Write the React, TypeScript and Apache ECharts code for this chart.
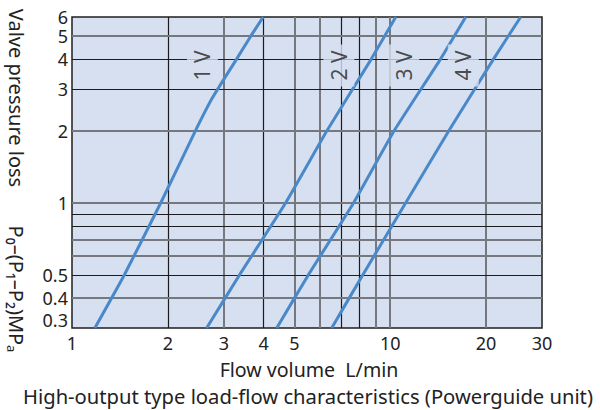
import React, { useEffect, useRef } from 'react';
import * as echarts from 'echarts';

// Axis tick labels
const xTickLabels = [1, 2, 3, 4, 5, 10, 20, 30];
const yTickLabels = [0.3, 0.4, 0.5, 1, 2, 3, 4, 5, 6];

// Grid lines (two line weights in the original)
const xGridDark = [2, 4, 7, 8];
const xGridGray = [3, 5, 6, 9, 10, 20];
const yGridDark = [0.5, 0.8, 0.9, 3, 4];
const yGridGray = [0.4, 0.6, 0.7, 1, 2, 5];

// Curves: flow volume (L/min) vs valve pressure loss (MPa)
const flow1V = [1.18, 1.46, 1.9, 2.44, 2.76, 3.29, 3.65, 3.99];
const loss1V = [0.3, 0.5, 1, 2, 2.75, 4, 5, 6];
const flow2V = [2.65, 3.36, 4.69, 6.32, 8.72, 10.41];
const loss2V = [0.3, 0.5, 1, 2, 4, 6];
const flow3V = [4.4, 5.53, 7.67, 10.28, 14.39, 17.27];
const loss3V = [0.3, 0.5, 1, 2, 4, 6];
const flow4V = [6.55, 8.2, 11.18, 15.27, 21.12, 25.71];
const loss4V = [0.3, 0.5, 1, 2, 4, 6];

// Curve labels
const curveNames = ['1 V', '2 V', '3 V', '4 V'];
const labelFlow = [2.57, 6.9, 11.03, 16.97];
const labelLoss = [3.76, 3.76, 3.76, 3.76];

const FONT = '"Noto Sans", "DejaVu Sans", sans-serif';
const BG = '#d6e0f0';
const TEXT = '#222222';
const LINE = '#4a89c9';

export default function App() {
  const ref = useRef<HTMLDivElement>(null);

  useEffect(() => {
    if (!ref.current) return;
    const chart = echarts.init(ref.current, null, { renderer: 'svg' });

    const dark = { color: '#1c1c1c', width: 1.2, type: 'solid' };
    const gray = { color: '#76787f', width: 2, type: 'solid' };

    const gridLines = [
      ...xGridDark.map((v) => ({ xAxis: v, lineStyle: dark })),
      ...xGridGray.map((v) => ({ xAxis: v, lineStyle: gray })),
      ...yGridDark.map((v) => ({ yAxis: v, lineStyle: dark })),
      ...yGridGray.map((v) => ({ yAxis: v, lineStyle: gray })),
    ];

    const curves = [
      { flow: flow1V, loss: loss1V },
      { flow: flow2V, loss: loss2V },
      { flow: flow3V, loss: loss3V },
      { flow: flow4V, loss: loss4V },
    ];

    const titleStyle = (text: string, size = 20) => ({
      text,
      fontSize: size,
      fontFamily: FONT,
      fill: TEXT,
      align: 'center',
      verticalAlign: 'middle',
    });

    const option: any = {
      animation: false,
      grid: {
        left: 72,
        top: 17,
        width: 470,
        height: 311,
        show: true,
        backgroundColor: BG,
        borderColor: '#1e1e1e',
        borderWidth: 1.5,
      },
      xAxis: {
        type: 'log',
        logBase: 10,
        min: 1,
        max: 30,
        axisLine: { show: false },
        axisTick: { show: false },
        splitLine: { show: false },
        axisLabel: {
          customValues: xTickLabels,
          color: TEXT,
          fontSize: 18,
          fontFamily: FONT,
          margin: 6,
        },
      },
      yAxis: {
        type: 'log',
        logBase: 10,
        min: 0.3,
        max: 6,
        axisLine: { show: false },
        axisTick: { show: false },
        splitLine: { show: false },
        axisLabel: {
          customValues: yTickLabels,
          color: TEXT,
          fontSize: 18,
          lineHeight: 16,
          fontFamily: FONT,
          margin: 4,
          verticalAlignMinLabel: 'bottom',
        },
      },
      graphic: [
        {
          type: 'text',
          x: 16,
          y: 98,
          rotation: -Math.PI / 2,
          style: titleStyle('Valve pressure loss'),
        },
        {
          type: 'text',
          x: 16,
          y: 289,
          rotation: -Math.PI / 2,
          style: titleStyle('P₀–(P₁–P₂)MPₐ'),
        },
        {
          type: 'text',
          x: 309,
          y: 369.5,
          style: titleStyle('Flow volume  L/min', 19.6),
        },
        {
          type: 'text',
          x: 308,
          y: 396,
          style: titleStyle('High-output type load-flow characteristics (Powerguide unit)', 20.2),
        },
      ],
      series: [
        {
          type: 'line',
          data: [],
          silent: true,
          z: 1,
          markLine: {
            silent: true,
            z: 1,
            symbol: ['none', 'none'],
            label: { show: false },
            animation: false,
            data: gridLines,
          },
        },
        ...curves.map((c, k) => ({
          type: 'line',
          name: curveNames[k],
          data: c.flow.map((f, i) => [f, c.loss[i]]),
          symbol: 'none',
          showSymbol: false,
          smooth: 0.15,
          z: 10,
          lineStyle: { color: LINE, width: 3 },
        })),
        {
          type: 'scatter',
          z: 12,
          symbolSize: 0,
          silent: true,
          data: labelFlow.map((f, i) => ({ value: [f, labelLoss[i]], name: curveNames[i] })),
          label: {
            show: true,
            position: 'inside',
            formatter: '{b}',
            rotate: 90,
            fontSize: 21,
            fontFamily: FONT,
            color: TEXT,
            backgroundColor: BG,
            padding: [5, 6],
          },
        },
      ],
    };

    chart.setOption(option);
    return () => chart.dispose();
  }, []);

  return (
    <div
      ref={ref}
      style={{ position: 'absolute', left: 0, top: 0, width: 600, height: 410 }}
    />
  );
}
